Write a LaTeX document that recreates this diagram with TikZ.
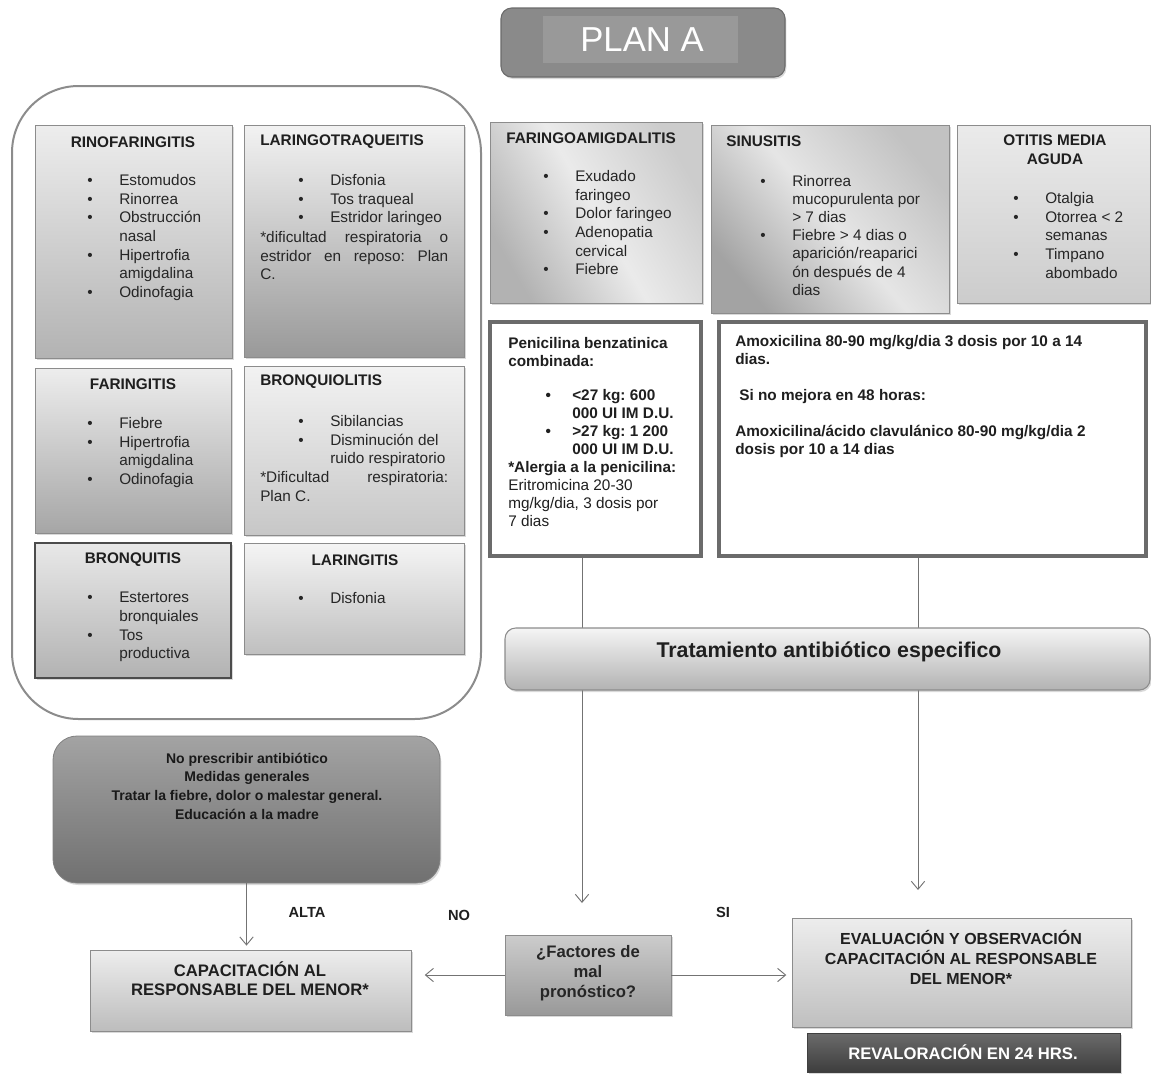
\documentclass[tikz,border=0pt]{standalone}
\usepackage{fontspec}
\setmainfont{Liberation Sans}
\usetikzlibrary{arrows.meta,shadows,fit,calc}
\newcommand\mybul{\makebox[24pt][l]{•}}
\newcommand\myind{\hspace*{24pt}}
\newcommand\pbul{\makebox[20pt][l]{•}}
\newcommand\pind{\hspace*{20pt}}
\newcommand\jline[1]{\makebox[141pt][s]{#1}}
\begin{document}
\frenchspacing
\begin{tikzpicture}[x=0.75pt,y=-0.75pt,
  bx/.style={inner sep=0pt, draw=black!45, line width=0.6pt,
    drop shadow={shadow xshift=1.2pt, shadow yshift=-1.5pt, opacity=0.3}},
  frame/.style={inner sep=0pt, draw=black!58, line width=3pt, fill=white},
  ttl/.style={font=\fontsize{11.5}{14}\selectfont\bfseries, text=black!88, inner sep=0pt},
  lst/.style={font=\fontsize{11.5}{14}\selectfont, align=left, anchor=north west, inner sep=0pt, text=black!85},
  btxt/.style={font=\fontsize{11.5}{13.5}\selectfont\bfseries, align=left, anchor=north west, inner sep=0pt, text=black!88},
  lbl/.style={font=\fontsize{11}{13}\selectfont\bfseries, inner sep=0pt, text=black!88},
  arr/.style={draw=black!55, line width=0.7pt, -{Straight Barb[length=6pt,width=10pt]}}]
\useasboundingbox (0,0) rectangle (1151,1078);

% PLAN A
\node[fit={(501,8)(785,77)}, inner sep=0pt, rounded corners=8pt, fill=black!46, draw=black!58, line width=0.8pt,
  drop shadow={shadow xshift=1pt, shadow yshift=-1.5pt, opacity=0.3}] (plan) {};
\node[fit={(543,16)(738,63)}, inner sep=0pt, fill=black!40] (planin) {};
\node[text=white, inner sep=0pt, font=\fontsize{26}{28}\selectfont] (plant) at (642,40) {PLAN A};

% container
\node[fit={(12,86)(481,719)}, inner sep=0pt, draw=black!45, line width=1.5pt, rounded corners=50pt] (cont) {};

% left boxes
\node[bx, fit={(35,125)(232,358)}, top color=black!7, bottom color=black!30] (rino) {};
\node[bx, fit={(244,125)(464,357)}, top color=black!5, bottom color=black!40] (lartra) {};
\node[bx, fit={(35,368)(231,533)}, top color=black!7, bottom color=black!35] (farin) {};
\node[bx, fit={(244,366)(464,535)}, top color=black!5, bottom color=black!22] (bronqlt) {};
\node[bx, fit={(35,543)(231,678)}, top color=black!9, bottom color=black!30, draw=black!70, line width=1pt] (bronq) {};
\node[bx, fit={(244,543)(464,654)}, top color=black!4, bottom color=black!25] (larin) {};

\node[ttl] (t1) at (133,142) {RINOFARINGITIS};
\node[lst] (l1) at (87,174) {\mybul Estomudos\\ \mybul Rinorrea\\ \mybul Obstrucción\\ \myind nasal\\ \mybul Hipertrofia\\ \myind amigdalina\\ \mybul Odinofagia};

\node[ttl, anchor=west] (t2) at (260,142) {LARINGOTRAQUEITIS};
\node[lst] (l2) at (298,174) {\mybul Disfonia\\ \mybul Tos traqueal\\ \mybul Estridor laringeo};
\node[lst] (p2) at (260,231) {\jline{*dificultad respiratoria o}\\ \jline{estridor en reposo: Plan}\\ C.};

\node[ttl] (t3) at (133,384) {FARINGITIS};
\node[lst] (l3) at (87,417) {\mybul Fiebre\\ \mybul Hipertrofia\\ \myind amigdalina\\ \mybul Odinofagia};

\node[ttl, anchor=west] (t4) at (260,382) {BRONQUIOLITIS};
\node[lst] (l4) at (298,415) {\mybul Sibilancias\\ \mybul Disminución del\\ \myind ruido respiratorio};
\node[lst] (p4) at (260,471) {\jline{*Dificultad\hfill respiratoria:}\\ Plan C.};

\node[ttl] (t5) at (133,560) {BRONQUITIS};
\node[lst] (l5) at (87,592) {\mybul Estertores\\ \myind bronquiales\\ \mybul Tos\\ \myind productiva};

\node[ttl] (t6) at (355,560) {LARINGITIS};
\node[lst] (l6) at (298,592) {\mybul Disfonia};

% right top boxes
\node[bx, fit={(490,122)(702,303)}, left color=black!30, right color=black!20, middle color=black!8, shading angle=120] (faramig) {};
\node[bx, fit={(711,125)(949,313)}, left color=black!36, right color=black!24, middle color=black!10, shading angle=130] (sinus) {};
\node[bx, fit={(957,125)(1150,303)}, top color=black!8, bottom color=black!20] (otitis) {};

\node[ttl, anchor=west] (t7) at (506,138) {FARINGOAMIGDALITIS};
\node[lst] (l7) at (543,170) {\mybul Exudado\\ \myind faringeo\\ \mybul Dolor faringeo\\ \mybul Adenopatia\\ \myind cervical\\ \mybul Fiebre};

\node[ttl, anchor=west] (t8) at (726,141) {SINUSITIS};
\node[lst, font=\fontsize{11.5}{13.6}\selectfont] (l8) at (760,175) {\mybul Rinorrea\\ \myind mucopurulenta por\\ \myind > 7 dias\\ \mybul Fiebre > 4 dias o\\ \myind aparición/reaparici\\ \myind ón después de 4\\ \myind dias};

\node[ttl, align=center] (t9) at (1055,150) {OTITIS MEDIA\\ AGUDA};
\node[lst] (l9) at (1013,192) {\mybul Otalgia\\ \mybul Otorrea < 2\\ \myind semanas\\ \mybul Timpano\\ \myind abombado};

% treatment boxes
\node[frame, fit={(490,322)(701,556)}] (pen) {};
\node[frame, fit={(719,322)(1146,556)}] (amox) {};

\node[btxt] (pent) at (508,337) {Penicilina benzatinica\\ combinada:\\[12pt]
  \hspace*{28pt}\pbul <27 kg: 600\\ \hspace*{28pt}\pind 000 UI IM D.U.\\
  \hspace*{28pt}\pbul >27 kg: 1 200\\ \hspace*{28pt}\pind 000 UI IM D.U.\\
  *Alergia a la penicilina:\\
  \mdseries Eritromicina 20-30\\ \mdseries mg/kg/dia, 3 dosis por\\ \mdseries 7 dias};

\node[btxt] (amoxt) at (735,335) {Amoxicilina 80-90 mg/kg/dia 3 dosis por 10 a 14\\ dias.\\[13.5pt]
  \hspace*{3pt}Si no mejora en 48 horas:\\[13.5pt]
  Amoxicilina/ácido clavulánico 80-90 mg/kg/dia 2\\ dosis por 10 a 14 dias};

% connector lines (behind the treatment bar)
\coordinate (e1) at (582,903);
\coordinate (e2) at (918,890);
\draw[arr] (pen.south -| e1) -- (e1);
\draw[arr] (amox.south -| e2) -- (e2);

% treatment bar
\node[fit={(505,628)(1150,690)}, inner sep=0pt, draw=black!45, line width=0.8pt, rounded corners=8pt,
  top color=black!4, bottom color=black!30,
  drop shadow={shadow xshift=1pt, shadow yshift=-1.5pt, opacity=0.3}] (trat) {};
\node[font=\fontsize{16}{18}\selectfont\bfseries, text=black!88, inner sep=0pt] (tratt) at (829,652) {Tratamiento antibiótico especifico};

% no antibiotic
\node[fit={(53,736)(440,883)}, inner sep=0pt, rounded corners=18pt, top color=black!36, bottom color=black!56,
  draw=black!50, line width=0.6pt, drop shadow={shadow xshift=1pt, shadow yshift=-1.5pt, opacity=0.3}] (nopres) {};
\node[font=\fontsize{10.5}{14}\selectfont\bfseries, align=center, text=black!90, inner sep=0pt] (nopt) at (247,786)
  {No prescribir antibiótico\\ Medidas generales\\ Tratar la fiebre, dolor o malestar general.\\ Educación a la madre};

% bottom boxes
\node[bx, fit={(90,950)(411,1031)}, top color=black!7, bottom color=black!26] (cap) {};
\node[font=\fontsize{12.5}{14}\selectfont\bfseries, align=center, text=black!88, inner sep=0pt] (capt) at (250,979)
  {CAPACITACIÓN AL\\ RESPONSABLE DEL MENOR*};

\node[bx, fit={(505,935)(671,1015)}, top color=black!20, bottom color=black!40] (fac) {};
\node[font=\fontsize{12.5}{15}\selectfont\bfseries, align=center, text=black!85, inner sep=0pt] (fact) at (588,973)
  {¿Factores de\\ mal\\ pronóstico?};

\node[bx, fit={(792,918)(1131,1027)}, top color=black!7, bottom color=black!25] (eval) {};
\node[font=\fontsize{12}{15}\selectfont\bfseries, align=center, text=black!88, inner sep=0pt] (evalt) at (961,957)
  {EVALUACIÓN Y OBSERVACIÓN\\ CAPACITACIÓN AL RESPONSABLE\\ DEL MENOR*};

\node[bx, fit={(807,1033)(1120,1072)}, top color=black!58, bottom color=black!76, draw=black!75] (reval) {};
\node[font=\fontsize{12.5}{15}\selectfont\bfseries, text=white, inner sep=0pt] (revalt) at (963,1052)
  {REVALORACIÓN EN 24 HRS.};

% connectors
\draw[arr, shorten >=3pt] (nopres.south) -- (nopres.south |- cap.north);
\draw[arr, shorten >=10pt] (fac.west) -- (fac.west -| cap.east);
\draw[arr, shorten >=4pt] (fac.east) -- (fac.east -| eval.west);

% labels
\node[lbl] (alta) at (307,912) {ALTA};
\node[lbl] (no) at (459,915) {NO};
\node[lbl] (si) at (723,912) {SI};
\end{tikzpicture}
\end{document}
